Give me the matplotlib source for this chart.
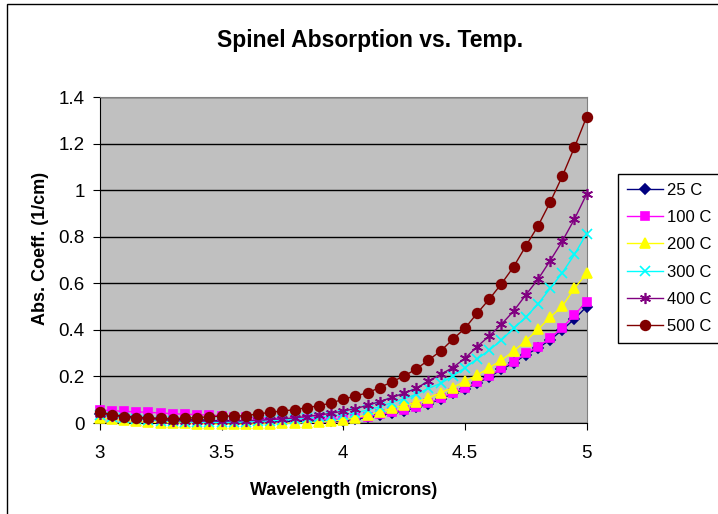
import matplotlib
matplotlib.use("Agg")
from matplotlib import pyplot as plt
from matplotlib.patches import Rectangle

plt.rcParams['font.family'] = ['Liberation Sans', 'DejaVu Sans']

wavelength = [3.00, 3.05, 3.10, 3.15, 3.20, 3.25, 3.30, 3.35, 3.40, 3.45,
              3.50, 3.55, 3.60, 3.65, 3.70, 3.75, 3.80, 3.85, 3.90, 3.95,
              4.00, 4.05, 4.10, 4.15, 4.20, 4.25, 4.30, 4.35, 4.40, 4.45,
              4.50, 4.55, 4.60, 4.65, 4.70, 4.75, 4.80, 4.85, 4.90, 4.95, 5.00]

abs_25 = [0.040, 0.035, 0.030, 0.026, 0.022, 0.019, 0.016, 0.014, 0.012, 0.011,
          0.010, 0.009, 0.008, 0.008, 0.007, 0.007, 0.007, 0.007, 0.007, 0.008,
          0.010, 0.017, 0.024, 0.034, 0.043, 0.053, 0.067, 0.082, 0.103, 0.127,
          0.146, 0.171, 0.198, 0.230, 0.258, 0.293, 0.322, 0.357, 0.400, 0.447, 0.500]
abs_100 = [0.056, 0.053, 0.050, 0.048, 0.046, 0.043, 0.040, 0.038, 0.036, 0.034,
           0.032, 0.028, 0.024, 0.022, 0.020, 0.019, 0.018, 0.017, 0.016, 0.016,
           0.016, 0.021, 0.027, 0.037, 0.046, 0.056, 0.070, 0.085, 0.106, 0.130,
           0.149, 0.175, 0.202, 0.235, 0.263, 0.299, 0.328, 0.364, 0.409, 0.464, 0.522]
abs_200 = [0.022, 0.016, 0.011, 0.007, 0.004, 0.002, 0.000, -0.002, -0.003, -0.004,
           -0.005, -0.005, -0.005, -0.004, -0.003, -0.002, 0.000, 0.002, 0.005, 0.009,
           0.013, 0.023, 0.034, 0.049, 0.063, 0.077, 0.089, 0.109, 0.130, 0.152,
           0.180, 0.206, 0.237, 0.270, 0.309, 0.353, 0.402, 0.454, 0.502, 0.578, 0.643]
abs_300 = [0.035, 0.028, 0.022, 0.017, 0.013, 0.010, 0.007, 0.005, 0.004, 0.003,
           0.003, 0.004, 0.005, 0.007, 0.009, 0.012, 0.016, 0.020, 0.025, 0.030,
           0.036, 0.044, 0.056, 0.070, 0.088, 0.104, 0.123, 0.149, 0.170, 0.202,
           0.237, 0.275, 0.313, 0.356, 0.407, 0.454, 0.511, 0.578, 0.645, 0.724, 0.814]
abs_400 = [0.040, 0.032, 0.025, 0.020, 0.016, 0.013, 0.010, 0.009, 0.008, 0.008,
           0.008, 0.009, 0.010, 0.012, 0.015, 0.018, 0.022, 0.028, 0.034, 0.042,
           0.051, 0.062, 0.076, 0.092, 0.110, 0.128, 0.149, 0.180, 0.209, 0.238,
           0.278, 0.328, 0.374, 0.424, 0.481, 0.550, 0.617, 0.697, 0.781, 0.876, 0.983]
abs_500 = [0.048, 0.036, 0.028, 0.023, 0.021, 0.020, 0.019, 0.021, 0.023, 0.027,
           0.030, 0.029, 0.032, 0.039, 0.046, 0.052, 0.057, 0.066, 0.074, 0.086,
           0.102, 0.116, 0.130, 0.152, 0.177, 0.202, 0.232, 0.270, 0.309, 0.359,
           0.407, 0.471, 0.532, 0.598, 0.671, 0.760, 0.846, 0.948, 1.060, 1.184, 1.315]

labels = ['25 C', '100 C', '200 C', '300 C', '400 C', '500 C']
series = [abs_25, abs_100, abs_200, abs_300, abs_400, abs_500]
colors = ['#000080', '#FF00FF', '#FFFF00', '#00FFFF', '#800080', '#800000']
markers = ['D', 's', '^', 'x', (6, 2, 0), 'o']
msizes = [5, 6, 7, 7, 8, 7]

fig = plt.figure(figsize=(7.18, 5.14), dpi=100)
ax = fig.add_axes([0.139, 0.177, 0.678, 0.634])
ax.set_facecolor('#C0C0C0')

# markers at the plot edges are drawn whole, not cut by the axes box
for vals, lab, c, m, ms in zip(series, labels, colors, markers, msizes):
    ax.plot(wavelength, vals, color=c, marker=m, markersize=ms, linewidth=1,
            markeredgecolor=c, markeredgewidth=1.2, label=lab, clip_on=False,
            zorder=3)

ax.set_xlim(3, 5)
ax.set_ylim(0, 1.4)
ax.set_xticks([3, 3.5, 4, 4.5, 5])
ax.set_xticklabels(['3', '3.5', '4', '4.5', '5'])
ax.set_yticks([0, 0.2, 0.4, 0.6, 0.8, 1, 1.2, 1.4])
ax.set_yticklabels(['0', '0.2', '0.4', '0.6', '0.8', '1', '1.2', '1.4'])
ax.yaxis.grid(True, color='black', linewidth=1)
ax.set_axisbelow(True)
ax.tick_params(direction='out', length=5, labelsize=13.5, colors='black')
ax.tick_params(axis='x', pad=11)
ax.tick_params(axis='y', pad=6)
for s in ['top', 'right']:
    ax.spines[s].set_color('#808080')
for s in ['left', 'bottom']:
    ax.spines[s].set_color('black')

ax.set_xlabel('Wavelength (microns)', fontsize=13, fontweight='bold')
ax.xaxis.set_label_coords(0.5, -0.18)
ax.set_ylabel('Abs. Coeff. (1/cm)', fontsize=13, fontweight='bold')
ax.yaxis.set_label_coords(-0.104, 0.537)
fig.text(0.516, 0.922, 'Spinel Absorption vs. Temp.', ha='center', va='center',
         fontsize=16.5, fontweight='bold')

leg = fig.legend(loc='upper left', bbox_to_anchor=(0.861, 0.661), fontsize=12,
                 frameon=True, fancybox=False, edgecolor='black', framealpha=1,
                 labelspacing=0.74, handlelength=2.2, handletextpad=0.25,
                 borderpad=0.5, borderaxespad=0)
leg.get_frame().set_linewidth(1)

fig.patches.append(Rectangle((7 / 718, -0.01), 1.0, 1 - 4 / 514 + 0.01,
                             transform=fig.transFigure, fill=False,
                             edgecolor='black', linewidth=1))

fig.savefig('out.png', dpi=100)
